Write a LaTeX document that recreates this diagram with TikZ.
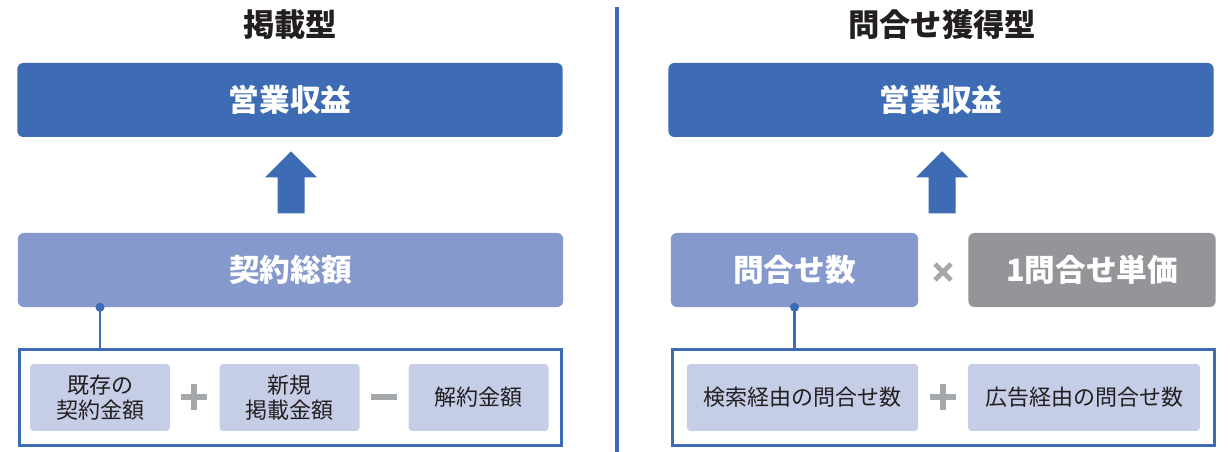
\documentclass[tikz,border=0pt]{standalone}
\usepackage{fontspec}
\setmainfont{Noto Sans CJK JP}
\usetikzlibrary{calc,positioning}
\definecolor{darkblue}{HTML}{3D6CB4}
\definecolor{midblue}{HTML}{8599CD}
\definecolor{lightblue}{HTML}{C6CDE7}
\definecolor{boxgray}{HTML}{949599}
\definecolor{signgray}{HTML}{A5A8AB}
\definecolor{inktext}{HTML}{231F20}
\tikzset{
    titletext/.style={text=inktext, font=\fontsize{23.5}{28}\selectfont\bfseries},
    headbox/.style={fill=darkblue, rounded corners=4.5pt, minimum width=409pt, minimum height=55.5pt,
        text=white, font=\fontsize{23}{28}\selectfont\bfseries},
    sumbox/.style={headbox, fill=midblue},
    halfbox/.style={sumbox, minimum width=185.5pt},
    framebox/.style={draw=darkblue, line width=2.5pt, minimum width=406.5pt, minimum height=72pt},
    partbox/.style={fill=lightblue, rounded corners=2.5pt, minimum height=50pt, text=inktext,
        align=center, font=\fontsize{16.5}{18.75}\selectfont},
    opsign/.style={draw=signgray, line width=4pt},
    link/.style={draw=darkblue, line width=2.2pt},
}

\begin{document}
\begin{tikzpicture}[x=0.75pt,y=-0.75pt]
    \useasboundingbox (0,0) rectangle (1230,452);

    % Titles and divider.
    \node[titletext] (titleL) at (290,25) {掲載型};
    \node[titletext] (titleR) at (942,25) {問合せ獲得型};
    \draw[darkblue,line width=3pt] (617,7) -- (617,452);

    % Left: top boxes.
    \node[headbox] (headL) at (290,100) {営業収益};
    \node[sumbox] (sumL) at (290.5,270) {契約総額};
    \fill[darkblue] ($(headL.south)+(1,14)$) -- ++(26,26) -- ++(-12.5,0) -- ++(0,36)
        -- ++(-27,0) -- ++(0,-36) -- ++(-12.5,0) -- cycle;

    % Left: breakdown.
    \node[framebox] (frameL) at (290.5,397.5) {};
    \node[partbox,minimum width=105pt] (partL1) at (100,397.5) {既存の\\契約金額};
    \node[partbox,minimum width=105pt] (partL2) at (289.5,397.5) {新規\\掲載金額};
    \node[partbox,minimum width=105pt] (partL3) at (478.5,397.5) {解約金額};
    \coordinate (plusL) at (194,397);
    \coordinate (minusL) at (384,397);
    \draw[opsign] ($(plusL)+(-13,0)$) -- ++(26,0) ($(plusL)+(0,-13)$) -- ++(0,26);
    \draw[opsign] ($(minusL)+(-13,0)$) -- ++(26,0);

    % Left: connector.
    \draw[link] (partL1 |- sumL.south) -- (partL1 |- frameL.north);
    \fill[darkblue] (partL1 |- sumL.south) circle [radius=3.4pt];

    % Right: top boxes.
    \node[headbox] (headR) at (941,100) {営業収益};
    \node[halfbox] (sumR) at (794.5,270) {問合せ数};
    \node[halfbox,fill=boxgray] (priceR) at (1092,270) {1問合せ単価};
    \fill[darkblue] ($(headR.south)+(1,14)$) -- ++(26,26) -- ++(-12.5,0) -- ++(0,36)
        -- ++(-27,0) -- ++(0,-36) -- ++(-12.5,0) -- cycle;
    \coordinate (timesR) at (943,272);
    \draw[opsign,line width=3.6pt] ($(timesR)+(-8,-8)$) -- ++(16,16) ($(timesR)+(-8,8)$) -- ++(16,-16);

    % Right: breakdown.
    \node[framebox] (frameR) at (943.5,397.5) {};
    \node[partbox,minimum width=173.5pt] (partR1) at (802.5,397.5) {検索経由の問合せ数};
    \node[partbox,minimum width=174pt] (partR2) at (1084,397.5) {広告経由の問合せ数};
    \coordinate (plusR) at (943,397);
    \draw[opsign] ($(plusR)+(-13,0)$) -- ++(26,0) ($(plusR)+(0,-13)$) -- ++(0,26);

    % Right: connector.
    \draw[link] (sumR.south) -- (sumR.south |- frameR.north);
    \fill[darkblue] (sumR.south) circle [radius=3.4pt];
\end{tikzpicture}
\end{document}
